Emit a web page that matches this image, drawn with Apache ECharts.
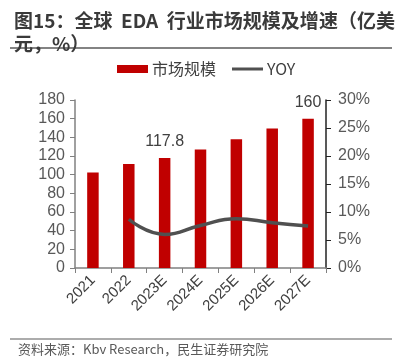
<!DOCTYPE html>
<html><head><meta charset="utf-8">
<script src="https://cdn.jsdelivr.net/npm/echarts@6/dist/echarts.min.js"></script>
<style>html,body{margin:0;padding:0;background:#fff}#c{width:395px;height:364px}</style>
</head><body><div id="c"></div>
<script>
const categories = ['2021','2022','2023E','2024E','2025E','2026E','2027E'];
const marketSize = [102.3, 111.3, 117.8, 127, 138, 149.5, 160];
const yoy = [null, 8.7, 6.0, 7.6, 8.8, 8.1, 7.5];
const leftTicks = [0,20,40,60,80,100,120,140,160,180];
const rightTicks = ['0%','5%','10%','15%','20%','25%','30%'];
const labeledIdx = [2, 6];
const FONT = '"Liberation Sans", "Noto Sans CJK SC", sans-serif';
const chart = echarts.init(document.getElementById('c'), null, {renderer:'canvas'});
chart.setOption({
  animation:false,
  title:{
    text:'图15：全球  EDA  行业市场规模及增速（亿美\n元，%）',
    left:9, top:4,
    textStyle:{fontSize:19, fontWeight:'bold', color:'#3a3a3a', fontFamily:'"Noto Sans CJK SC", sans-serif', lineHeight:23}
  },
  graphic:[
    {type:'line', shape:{x1:10,y1:48,x2:392,y2:48}, style:{stroke:'#5a5a5a', lineWidth:1.5}},
    {type:'line', shape:{x1:10,y1:339,x2:392,y2:339}, style:{stroke:'#5a5a5a', lineWidth:1.2}},
    {type:'text', left:18, top:343, style:{text:'资料来源：Kbv Research，民生证券研究院', fontSize:13, fill:'#595959', fontFamily:'"Noto Sans CJK SC", sans-serif'}}
  ],
  legend:{
    top:56, left:112, itemGap:16, itemWidth:31, itemHeight:8,
    textStyle:{fontSize:16, color:'#404040', fontFamily:'"Noto Sans CJK SC", sans-serif', padding:[0,0,0,-1]},
    data:[{name:'市场规模', icon:'rect'},
          {name:'YOY', icon:'path://M0,0L0.01,0L0,0.01Z M0,2.6L31,2.6L31,5.4L0,5.4Z M31,8L30.99,8L31,7.99Z'}]
  },
  grid:{left:75, right:69, top:100, bottom:96},
  xAxis:{
    type:'category', data:categories,
    axisLine:{lineStyle:{color:'#808080', width:1.5}},
    axisTick:{show:true, alignWithLabel:false, length:5, lineStyle:{color:'#808080'}},
    axisLabel:{rotate:45, fontSize:15, color:'#404040', fontFamily:FONT, margin:10}
  },
  yAxis:[
    {type:'value', min:0, max:180, interval:20,
     axisLine:{show:true, lineStyle:{color:'#808080', width:1.5}},
     axisTick:{show:true, length:5, lineStyle:{color:'#808080'}},
     splitLine:{show:false},
     axisLabel:{fontSize:16, color:'#595959', fontFamily:FONT, margin:10,
       formatter:(v)=> leftTicks.includes(v) ? String(v) : ''}
    },
    {type:'value', min:0, max:30, interval:5,
     axisLine:{show:true, lineStyle:{color:'#222', width:1.5}},
     axisTick:{show:true, length:5, lineStyle:{color:'#222'}},
     splitLine:{show:false},
     axisLabel:{fontSize:16, color:'#595959', fontFamily:FONT, margin:12,
       formatter:(v)=> rightTicks[Math.round(v/5)]}
    }
  ],
  series:[
    {name:'市场规模', type:'bar', data:marketSize.map((v,i)=>({value:v,
       label:{show:labeledIdx.includes(i), position:'top', distance:8, fontSize:16, color:'#404040', fontFamily:FONT,
         formatter:()=> i===6 ? '160' : String(v)}})),
     barWidth:11.5, itemStyle:{color:'#C00000'}},
    {name:'YOY', type:'line', yAxisIndex:1, data:yoy, smooth:true, showSymbol:false, symbol:'none',
     lineStyle:{color:'#505050', width:3.5}, itemStyle:{color:'#505050'}}
  ]
});
</script></body></html>
